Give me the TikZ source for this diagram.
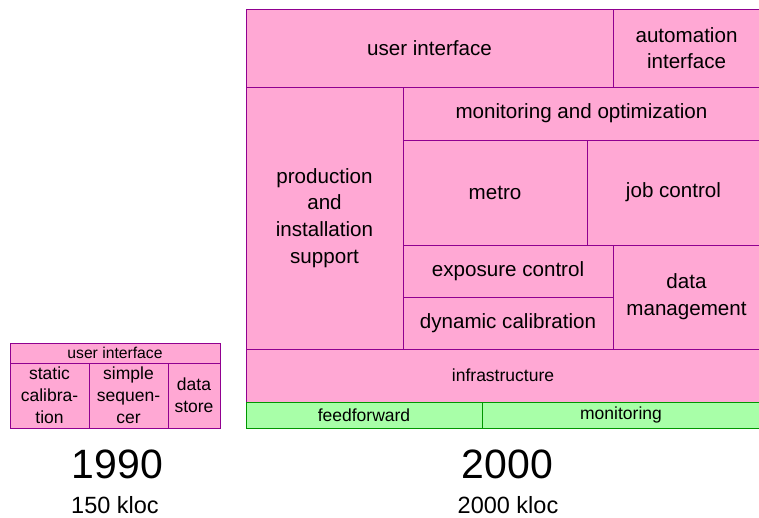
\documentclass[tikz,border=0pt]{standalone}
\usepackage{fontspec}
\setmainfont{Liberation Sans}
\usepackage{tikz}
\usetikzlibrary{positioning}
\definecolor{cellpink}{RGB}{255,168,212}
\definecolor{cellline}{RGB}{144,0,144}
\definecolor{basegreen}{RGB}{168,255,168}
\definecolor{baseline}{RGB}{0,150,0}

\begin{document}
\begin{tikzpicture}[
    % GLOBAL CFG
    x=1pt, y=-1pt,
    % Styles
    cell/.style={% For the pink modules
        rectangle,
        draw=cellline,
        fill=cellpink,
        line width=0.9pt,
        inner sep=0pt,
        align=center,
        font=\fontsize{20.6}{26.7}\selectfont,
        },
    smallcell/.style={% For the modules of the old system
        cell,
        font=\fontsize{17.5}{22}\selectfont,
        },
    basecell/.style={% For the green base layer
        cell,
        draw=baseline,
        fill=basegreen,
        font=\fontsize{17.5}{22}\selectfont,
        },
    year/.style={% For the year under each block
        anchor=base,
        inner sep=0pt,
        font=\fontsize{41}{41}\selectfont,
        },
    size/.style={% For the code size
        anchor=base,
        inner sep=0pt,
        font=\fontsize{23.5}{23.5}\selectfont,
        },
    ]
    \useasboundingbox (0,0) rectangle (759,517);

    % Draw the old system (1990)
    \node [smallcell, minimum width=210pt, minimum height=20pt, font=\fontsize{15.7}{19}\selectfont] (sui) at (115,353) {user interface};
    \node [smallcell, minimum width=79pt, minimum height=65pt] (scal) at (49.5,395.5) {static\\calibra-\\tion};
    \node [smallcell, minimum width=79pt, minimum height=65pt] (sseq) at (128.5,395.5) {simple\\sequen-\\cer};
    \node [smallcell, minimum width=52pt, minimum height=65pt] (sstore) at (194,395.5) {data\\store};

    % Draw the new system (2000)
    \node [cell, minimum width=367pt, minimum height=78pt] (ui) at (429.5,48) {user interface};
    \node [cell, minimum width=147pt, minimum height=78pt] (auto) at (686.5,48) {automation\\interface};
    \node [cell, minimum width=157pt, minimum height=262pt] (prod) at (324.5,218) {production\\and\\installation\\support};
    \node [cell, minimum width=357pt, minimum height=53pt] (monopt) at (581.5,113.5) {monitoring and optimization};
    \node [cell, minimum width=184pt, minimum height=105pt] (metro) at (495,192.5) {metro};
    \node [cell, minimum width=173pt, minimum height=105pt] (job) at (673.5,192.5) {job control};
    \node [cell, minimum width=210pt, minimum height=52pt] (expo) at (508,271) {exposure control};
    \node [cell, minimum width=210pt, minimum height=52pt] (dyncal) at (508,323) {dynamic calibration};
    \node [cell, minimum width=147pt, minimum height=104pt] (datamgmt) at (686.5,297) {data\\management};
    \node [smallcell, minimum width=514pt, minimum height=53pt] (infra) at (503,375.5) {infrastructure};
    \node [basecell, minimum width=236pt, minimum height=26pt] (ff) at (364,415) {feedforward};
    \node [basecell, minimum width=278pt, minimum height=26pt] (mon) at (621,415) {monitoring};

    % Years and sizes
    \node [year] (y1990) at (117.5,478) {1990};
    \node [size] (k1990) at (115,513) {150 kloc};
    \node [year] (y2000) at (507.5,478) {2000};
    \node [size] (k2000) at (508,513) {2000 kloc};
\end{tikzpicture}
\end{document}
